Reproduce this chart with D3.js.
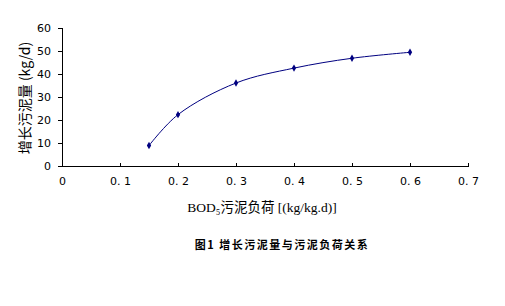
<!DOCTYPE html>
<html>
<head>
<meta charset="utf-8">
<script src="https://cdn.jsdelivr.net/npm/d3@7"></script>
<style>
  body { margin: 0; background: #fff; }
  svg { display: block; }
  .tick text { font-family: "DejaVu Sans", sans-serif; font-size: 11px; fill: #000; }
</style>
</head>
<body>
<svg id="chart" width="505" height="306"></svg>
<script>
// sludge load (kg/kg.d) vs sludge growth (kg/d)
const loads = [0.15, 0.2, 0.3, 0.4, 0.5, 0.6];
const growth = [8.7, 22.2, 36, 42.5, 46.8, 49.4];
const xTicks = [0, 0.1, 0.2, 0.3, 0.4, 0.5, 0.6, 0.7];
const yTicks = [0, 10, 20, 30, 40, 50, 60];

const svg = d3.select('#chart');
const plotL = 62, plotR = 468, plotT = 28, plotB = 165.5;

const x = d3.scaleLinear().domain([0, 0.7]).range([plotL, plotR]);
const y = d3.scaleLinear().domain([0, 60]).range([plotB, plotT]);

// y axis: outside ticks
svg.append('g')
  .attr('transform', `translate(${plotL},0)`)
  .call(d3.axisLeft(y).tickValues(yTicks).tickSize(4).tickPadding(7).tickFormat(d3.format('d')))
  .call(g => g.selectAll('path, line').attr('stroke', '#000').attr('shape-rendering', 'crispEdges'));

// x axis: ticks point up into the plot
svg.append('g')
  .attr('transform', `translate(0,${plotB})`)
  .call(d3.axisBottom(x).tickValues(xTicks).tickSizeInner(-3).tickSizeOuter(-3).tickPadding(12)
    .tickFormat(d => d === 0 ? '0' : d3.format('.1f')(d).replace('.', '. ')))
  .call(g => g.selectAll('path, line').attr('stroke', '#000').attr('shape-rendering', 'crispEdges'))
  .call(g => g.selectAll('text').attr('dy', '0.71em'));

const pts = loads.map((v, i) => [v, growth[i]]);

svg.append('path')
  .datum(pts)
  .attr('fill', 'none')
  .attr('stroke', '#000080')
  .attr('stroke-width', 1)
  .attr('d', d3.line().x(d => x(d[0])).y(d => y(d[1])).curve(d3.curveCatmullRom.alpha(0.5)));

svg.append('g')
  .selectAll('path')
  .data(pts)
  .join('path')
  .attr('transform', d => `translate(${x(d[0])},${y(d[1])})`)
  .attr('d', d3.symbol(d3.symbolDiamond, 16))
  .attr('fill', '#000080');

// axis titles
svg.append('text')
  .attr('transform', `translate(30,98) rotate(-90)`)
  .attr('text-anchor', 'middle')
  .attr('font-family', '"Noto Sans CJK SC", sans-serif')
  .attr('font-size', 14)
  .text('增长污泥量 (kg/d)');

svg.append('text')
  .attr('x', 262).attr('y', 212)
  .attr('text-anchor', 'middle')
  .attr('font-family', '"Liberation Serif", "Noto Sans CJK SC", serif')
  .attr('font-size', 13.5)
  .text('BOD₅污泥负荷 [(kg/kg.d)]');

svg.append('text')
  .attr('x', 282).attr('y', 249)
  .attr('text-anchor', 'middle')
  .attr('font-family', '"Noto Sans CJK SC", sans-serif')
  .attr('font-weight', 'bold')
  .attr('font-size', 11)
  .attr('letter-spacing', 1.5)
  .text('图1  增长污泥量与污泥负荷关系');
</script>
</body>
</html>
